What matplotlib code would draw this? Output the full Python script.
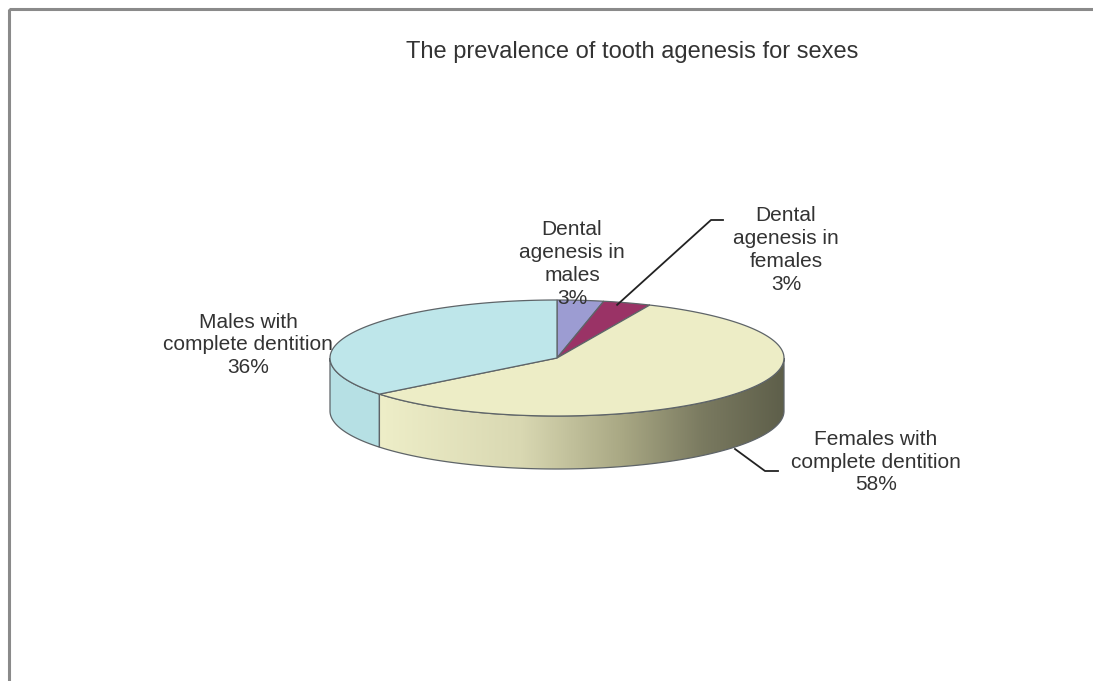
import numpy as np
import matplotlib
matplotlib.use("Agg")
import matplotlib.pyplot as plt
from matplotlib.patches import Polygon, Rectangle
from matplotlib.colors import LinearSegmentedColormap

# ---- data ----
categories = ["Dental\nagenesis in\nmales", "Dental\nagenesis in\nfemales",
              "Females with\ncomplete dentition", "Males with\ncomplete dentition"]
values = [3.3, 3.4, 57.6, 35.7]
title = "The prevalence of tooth agenesis for sexes"

# ---- style ----
top_colors = ["#9C9CD2", "#9A3366", "#EDEDC6", "#BEE6EA"]
side_colors = ["#7C7CB0", "#7A2050", None, "#B6E0E4"]
edge_color = "#5E6468"
font = ["Liberation Sans", "DejaVu Sans"]

W, H = 1093, 681
fig = plt.figure(figsize=(W / 100, H / 100), dpi=100)
ax = fig.add_axes([0, 0, 1, 1])
ax.set_xlim(0, W)
ax.set_ylim(H, 0)
ax.axis("off")

# frame
ax.add_patch(Rectangle((9, 9), W + 20, H + 20, fill=False, ec="#8A8A8A", lw=2.2))

cx, cy, R, r, depth = 557, 358, 227, 58, 53

def pt(t):
    return cx + R * np.cos(np.radians(t)), cy - r * np.sin(np.radians(t))

# slice angles: start at 12 o'clock, clockwise
fr = np.array(values) / sum(values)
cum = np.concatenate([[0], np.cumsum(fr)])
starts = 90 - cum[:-1] * 360
ends = 90 - cum[1:] * 360

gradient_cmap = LinearSegmentedColormap.from_list(
    "side", [(0.0, "#EEEEC8"), (0.35, "#D9D8B2"), (0.6, "#A9A884"),
             (0.8, "#7A7A60"), (1.0, "#5E5F4A")])

# ---- sides (front half only: angles in [-180, 0]) ----
for i in range(len(values)):
    a_hi, a_lo = starts[i], ends[i]
    lo = max(a_lo, -180)
    hi = min(a_hi, 0)
    if lo >= hi:
        lo2, hi2 = max(a_lo + 360, -180), min(a_hi + 360, 0)
        if lo2 >= hi2:
            continue
        lo, hi = lo2, hi2
    ts = np.linspace(lo, hi, 200)
    xs = cx + R * np.cos(np.radians(ts))
    ys = cy - r * np.sin(np.radians(ts))
    poly = np.vstack([np.column_stack([xs, ys]),
                      np.column_stack([xs[::-1], ys[::-1] + depth])])
    if side_colors[i] is None:
        p = Polygon(poly, closed=True, fc="none", ec=edge_color, lw=0.9, zorder=3)
        ax.add_patch(p)
        x0, x1 = xs.min(), xs.max()
        grad = np.linspace(0, 1, 256).reshape(1, -1)
        im = ax.imshow(grad, cmap=gradient_cmap, aspect="auto",
                       extent=[x0, x1, ys.max() + depth, ys.min()], zorder=2,
                       interpolation="bilinear")
        im.set_clip_path(p)
    else:
        ax.add_patch(Polygon(poly, closed=True, fc=side_colors[i],
                             ec=edge_color, lw=0.9, zorder=2))

# ---- top faces ----
for i in range(len(values)):
    ts = np.linspace(starts[i], ends[i], 200)
    xs = cx + R * np.cos(np.radians(ts))
    ys = cy - r * np.sin(np.radians(ts))
    poly = np.vstack([[cx, cy], np.column_stack([xs, ys])])
    ax.add_patch(Polygon(poly, closed=True, fc=top_colors[i], ec=edge_color,
                         lw=0.9, zorder=4))

# ---- labels ----
tc = "#333333"
ax.text(632, 52, title, ha="center", va="center", fontsize=17, color=tc,
        family=font)

def lab(i):
    return f"{categories[i]}\n{values[i]:.0f}%"

kw = dict(ha="center", va="center", fontsize=15, color=tc, family=font,
          linespacing=1.25, zorder=6)
ax.text(572, 264, lab(0), **kw)
ax.text(786, 250, lab(1), **kw)
ax.text(876, 462, lab(2), **kw)
ax.text(248, 345, lab(3), **kw)

# leader lines
a_mid1 = (starts[1] + ends[1]) / 2
p1 = pt(a_mid1)
ax.plot([p1[0] - 10, 711, 723], [p1[1] + 2, 220, 220], color="#222222", lw=1.3, zorder=7)
ax.plot([735, 765, 778], [449, 471, 471], color="#222222", lw=1.3, zorder=7)

fig.savefig("out.png", dpi=100)
